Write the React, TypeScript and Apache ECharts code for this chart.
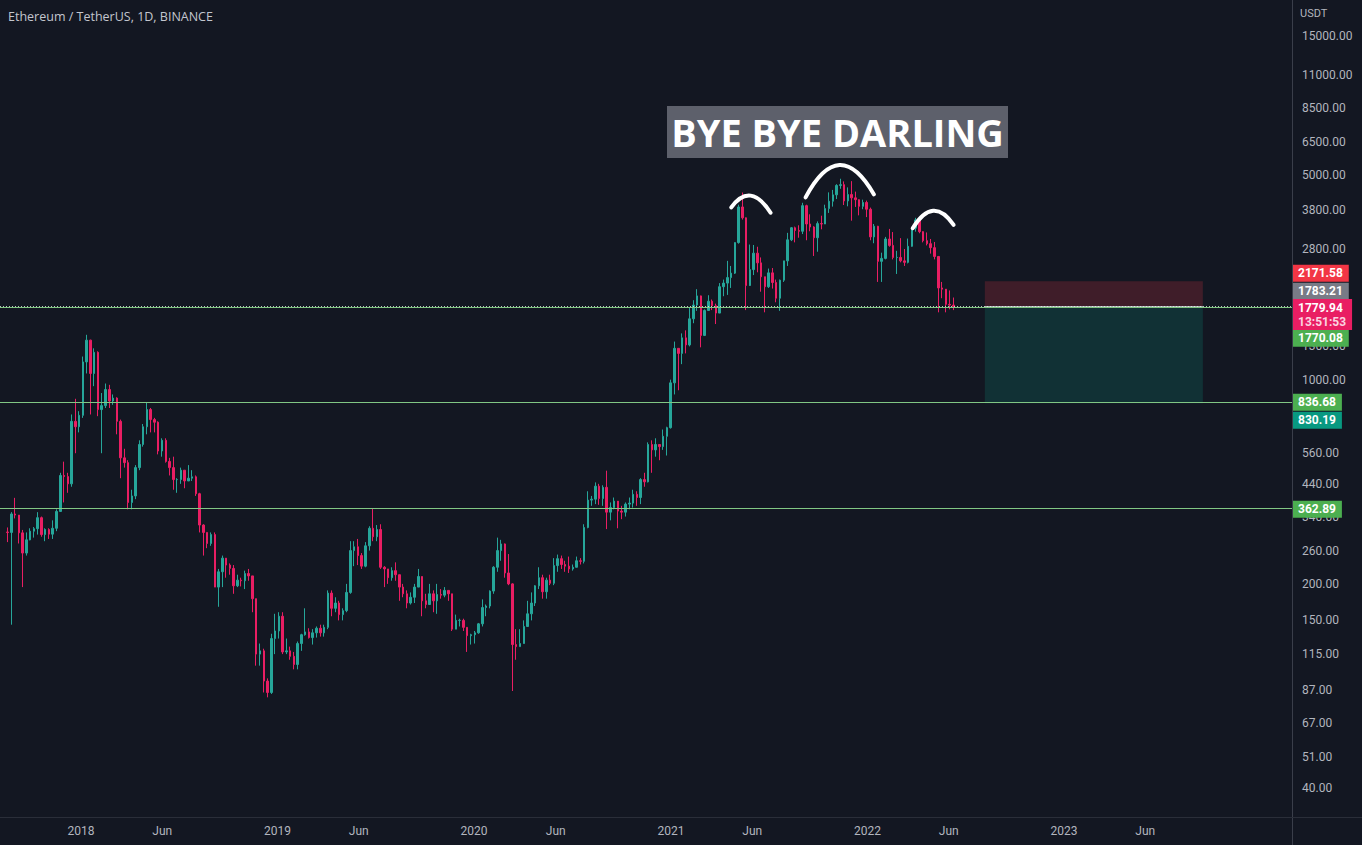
import React, { useEffect, useRef } from "react";
import * as echarts from "echarts";

// ---------- DATA (weekly candles) ----------
const FIRST_WEEK = "2017-08-14"; // Monday of the first weekly candle
const FIRST_OPEN = 301;

const weeklyHigh = [
  312, 352, 394, 343, 306, 300, 310, 313, 352, 340, 310, 310, 330, 360, 480, 524, 480, 760, 860, 780,
  1200, 1424, 1370, 1280, 1250, 900, 970, 960, 890, 870, 730, 580, 530, 420, 510, 620, 705, 835, 800, 740,
  720, 630, 630, 540, 545, 460, 500, 490, 510, 490, 470, 410, 320, 300, 300, 300, 225, 250, 245, 235,
  232, 215, 210, 222, 225, 213, 178, 125, 120, 95, 135, 158, 160, 160, 130, 122, 117, 127, 135, 165,
  141, 140, 143, 145, 145, 190, 190, 180, 175, 165, 200, 280, 280, 285, 255, 278, 315, 363, 318, 320,
  230, 225, 228, 237, 215, 200, 190, 187, 200, 225, 212, 185, 200, 190, 200, 192, 195, 190, 185, 157,
  152, 152, 142, 135, 138, 147, 177, 170, 190, 230, 288, 283, 275, 253, 201, 140, 140, 150, 175, 187,
  198, 228, 215, 210, 215, 245, 252, 250, 240, 248, 233, 248, 245, 320, 415, 400, 445, 440, 435, 488,
  380, 395, 380, 370, 380, 395, 420, 415, 460, 480, 610, 620, 630, 600, 675, 690, 1000, 1350, 1280, 1440,
  1475, 1770, 1870, 2040, 1940, 1740, 1945, 1880, 1820, 2140, 2200, 2550, 2450, 2950, 3970, 4370, 3590, 2900, 2890, 2850,
  2620, 2250, 2400, 2410, 2200, 2200, 2550, 3180, 3330, 3340, 3375, 4030, 3970, 3680, 3350, 3480, 3640, 3970, 4375, 4460,
  4665, 4870, 4770, 4550, 4780, 4400, 4110, 4130, 4100, 3880, 3410, 3360, 2720, 3080, 3280, 3200, 2760, 3050, 2800, 3040,
  3300, 3580, 3555, 3220, 3190, 3030, 2960, 2650, 2160, 2010, 2020, 1910,
];

const weeklyLow = [
  278, 145, 335, 275, 195, 250, 282, 288, 295, 290, 280, 285, 285, 303, 355, 380, 410, 430, 560, 660,
  740, 1050, 760, 950, 750, 560, 800, 800, 820, 650, 460, 500, 360, 360, 390, 490, 590, 650, 660, 660,
  555, 545, 520, 470, 420, 410, 440, 425, 450, 450, 400, 300, 250, 265, 270, 195, 167, 195, 210, 215,
  185, 195, 196, 192, 205, 160, 105, 105, 85, 81.8, 84, 115, 130, 115, 115, 110, 102, 102, 118, 133,
  130, 124, 131, 132, 132, 140, 155, 160, 150, 150, 160, 185, 230, 232, 225, 228, 260, 280, 280, 225,
  195, 200, 205, 205, 175, 180, 165, 170, 172, 195, 155, 165, 170, 160, 158, 178, 180, 175, 138, 140,
  143, 138, 117, 124, 125, 135, 143, 155, 165, 185, 220, 240, 210, 198, 86, 110, 122, 125, 150, 150,
  168, 192, 178, 178, 198, 198, 220, 225, 220, 218, 222, 229, 233, 235, 310, 370, 375, 373, 370, 308,
  330, 360, 310, 333, 340, 360, 365, 370, 375, 430, 445, 480, 545, 530, 575, 550, 680, 890, 920, 1130,
  1230, 1300, 1560, 1720, 1290, 1410, 1720, 1730, 1550, 1690, 1930, 1950, 2060, 2300, 2920, 3530, 1730, 2160, 2280, 2330,
  2000, 1700, 2060, 2050, 1840, 1720, 2160, 2450, 2980, 2950, 3060, 3150, 3000, 3220, 2650, 2740, 3270, 3420, 3720, 3910,
  4150, 4500, 3960, 3920, 3500, 3900, 3650, 3830, 3600, 3000, 2930, 2160, 2160, 2580, 2850, 2580, 2300, 2520, 2450, 2500,
  2850, 3210, 3170, 2950, 2880, 2700, 2580, 1700, 1900, 1700, 1740, 1730,
];

const weeklyClose = [
  300, 347, 344, 299, 255, 283, 303, 309, 337, 295, 307, 296, 310, 354, 470, 466, 440, 720, 690, 755,
  1150, 1365, 1050, 1240, 790, 815, 925, 845, 865, 720, 540, 520, 380, 400, 500, 600, 690, 790, 730, 715,
  570, 620, 525, 500, 455, 455, 490, 450, 460, 465, 407, 318, 300, 275, 295, 195, 220, 245, 232, 226,
  197, 206, 205, 217, 213, 178, 115, 118, 93, 85, 130, 138, 155, 117, 118, 113, 106, 125, 134, 137,
  131, 136, 141, 136, 142, 186, 165, 172, 157, 162, 187, 260, 268, 250, 230, 270, 310, 290, 307, 228,
  225, 210, 222, 215, 195, 185, 172, 180, 195, 212, 175, 170, 185, 175, 184, 183, 190, 185, 140, 150,
  150, 142, 133, 134, 136, 146, 166, 168, 189, 228, 260, 274, 218, 200, 124, 122, 125, 143, 158, 172,
  197, 210, 188, 206, 201, 231, 244, 233, 230, 225, 228, 240, 239, 312, 387, 390, 432, 392, 428, 352,
  365, 384, 355, 352, 375, 378, 405, 395, 455, 447, 600, 575, 600, 590, 640, 685, 975, 1280, 1230, 1390,
  1315, 1615, 1800, 1935, 1417, 1725, 1855, 1790, 1690, 2080, 2140, 2235, 2315, 2945, 3900, 3580, 2100, 2380, 2710, 2510,
  2250, 2080, 2320, 2150, 1900, 2190, 2550, 3010, 3310, 3240, 3220, 3940, 3410, 3330, 3060, 3420, 3410, 3850, 4080, 4290,
  4620, 4650, 4090, 4300, 4190, 4130, 3920, 4040, 3830, 3080, 3350, 2540, 2600, 3030, 2880, 2620, 2620, 2550, 2520, 2860,
  3300, 3520, 3210, 2990, 2920, 2830, 2640, 2060, 2040, 1810, 1800, 1779.94,
];

const yTickValues = [40, 51, 67, 87, 115, 150, 200, 260, 340, 440, 560, 1000, 1300, 2800, 3800, 5000, 6500, 8500, 11000, 15000];
const xTickDates = [
  "2018-01-01", "2018-06-01", "2019-01-01", "2019-06-01", "2020-01-01", "2020-06-01",
  "2021-01-01", "2021-06-01", "2022-01-01", "2022-06-01", "2023-01-01", "2023-06-01",
];
const monthNames = ["Jan", "Feb", "Mar", "Apr", "May", "Jun", "Jul", "Aug", "Sep", "Oct", "Nov", "Dec"];

// price levels
const supportHigh = 836.68;
const supportLow = 362.89;
const greenLevel = 1770.08;
const lastPrice = 1779.94;
const countdown = "13:51:53";
const entryPrice = 1783.21;
const stopPrice = 2171.58;
const targetPrice = 830.19;
const positionStart = "2022-08-07";
const positionEnd = "2023-09-16";

// hand-drawn arcs over the three tops: [start, middle, end] dates and prices
const arcDates = [
  ["2021-04-23", "2021-05-29", "2021-07-05"],
  ["2021-09-08", "2021-11-10", "2022-01-13"],
  ["2022-03-26", "2022-05-03", "2022-06-10"],
];
const arcPrices = [
  [3888, 4264, 3727],
  [4206, 5429, 4306],
  [3298, 3784, 3385],
];

const titleText = "Ethereum / TetherUS, 1D, BINANCE";
const noteText = "BYE BYE DARLING";

// ---------- helpers ----------
const DAY = 86400000;
const ts = (s: string) => Date.parse(s + "T00:00:00Z");

export default function App() {
  const ref = useRef<HTMLDivElement>(null);

  useEffect(() => {
    if (!ref.current) return;
    const chart = echarts.init(ref.current, undefined, { renderer: "svg" });

    const start = ts(FIRST_WEEK);
    const candles = weeklyClose.map((c, i) => [
      start + i * 7 * DAY + 3.5 * DAY,
      i === 0 ? FIRST_OPEN : weeklyClose[i - 1],
      c,
      weeklyLow[i],
      weeklyHigh[i],
    ]);

    const arcs = arcDates.map((d, i) => [
      ts(d[0]), arcPrices[i][0], ts(d[1]), arcPrices[i][1], ts(d[2]), arcPrices[i][2],
    ]);

    const jan2018 = ts("2018-01-01");
    const xMin = jan2018 - 150.47 * DAY;
    const xMax = jan2018 + 2249.6 * DAY;

    const tagBase = {
      show: true,
      position: "end",
      distance: 0,
      color: "#ffffff",
      fontSize: 12,
      fontWeight: "bold",
      fontFamily: "Roboto, sans-serif",
      padding: [2, 6, 1, 6],
      lineHeight: 14,
    };
    const hidden = { color: "rgba(0,0,0,0)", width: 1 };
    const greenLine = { color: "#81c784", width: 1, type: "solid" };

    const mkTag = (value: number, text: string, bg: string, dy: number, lineStyle: any) => ({
      yAxis: value,
      lineStyle,
      label: { ...tagBase, formatter: text, backgroundColor: bg, offset: [0, dy] },
    });

    const option: any = {
      animation: false,
      backgroundColor: "#131722",
      grid: { left: 0, right: 70, top: 0, bottom: 28, containLabel: false },
      xAxis: {
        type: "value",
        min: xMin,
        max: xMax,
        axisLine: { show: false },
        axisTick: { show: false },
        splitLine: { show: false },
        axisLabel: {
          customValues: xTickDates.map(ts),
          color: "#b2b5be",
          fontSize: 12,
          fontFamily: "Roboto, sans-serif",
          margin: 8,
          formatter: (v: number) => {
            const d = new Date(v);
            return d.getUTCMonth() === 0 ? String(d.getUTCFullYear()) : monthNames[d.getUTCMonth()];
          },
        },
      },
      yAxis: {
        type: "log",
        logBase: 10,
        position: "right",
        min: 31.86,
        max: 19921,
        axisLine: { show: false },
        axisTick: { show: false },
        splitLine: { show: false },
        axisLabel: {
          customValues: yTickValues,
          color: "#b2b5be",
          fontSize: 12,
          fontFamily: "Roboto, sans-serif",
          margin: 10,
          formatter: (v: number) => Number(v).toFixed(2),
        },
      },
      series: [
        {
          type: "candlestick",
          data: candles,
          barWidth: 2,
          itemStyle: {
            color: "#26a69a",
            color0: "#e91e63",
            borderColor: "#26a69a",
            borderColor0: "#e91e63",
            borderWidth: 1,
          },
          markArea: {
            silent: true,
            data: [
              [
                { xAxis: ts(positionStart), yAxis: stopPrice, itemStyle: { color: "rgba(242,54,69,0.2)" } },
                { xAxis: ts(positionEnd), yAxis: entryPrice },
              ],
              [
                { xAxis: ts(positionStart), yAxis: entryPrice, itemStyle: { color: "rgba(8,153,129,0.2)" } },
                { xAxis: ts(positionEnd), yAxis: targetPrice },
              ],
            ],
          },
          markLine: {
            silent: true,
            symbol: ["none", "none"],
            data: [
              [
                { coord: [ts(positionStart), entryPrice], lineStyle: { color: "#b2b5be", width: 1, type: "solid" }, label: { show: false } },
                { coord: [ts(positionEnd), entryPrice] },
              ],
              mkTag(supportHigh, "836.68", "#4caf50", 0, greenLine),
              mkTag(supportLow, "362.89", "#4caf50", 1, greenLine),
              mkTag(greenLevel, "1770.08", "#4caf50", 31, greenLine),
              mkTag(targetPrice, "830.19", "#089981", 17, hidden),
              mkTag(stopPrice, "2171.58", "#f23645", -8, hidden),
              mkTag(entryPrice, "1783.21", "#787b86", -15, hidden),
              {
                yAxis: lastPrice,
                lineStyle: { color: "rgba(230,245,230,0.8)", width: 1, type: [1, 2] },
                label: {
                  ...tagBase,
                  backgroundColor: "#e91e63",
                  offset: [0, 8],
                  formatter: "{a|" + lastPrice.toFixed(2) + "}\n{b|" + countdown + "}",
                  rich: {
                    a: { color: "#ffffff", fontSize: 12, fontWeight: "bold", lineHeight: 14, fontFamily: "Roboto, sans-serif" },
                    b: { color: "#fbd3e0", fontSize: 12, lineHeight: 14, fontFamily: "Roboto, sans-serif" },
                  },
                },
              },
            ],
          },
          z: 2,
        },
        {
          type: "custom",
          data: arcs,
          clip: false,
          silent: true,
          z: 6,
          renderItem: (_params: any, api: any) => {
            const s = api.coord([api.value(0), api.value(1)]);
            const m = api.coord([api.value(2), api.value(3)]);
            const e = api.coord([api.value(4), api.value(5)]);
            const cx = 2 * m[0] - (s[0] + e[0]) / 2;
            const cy = 2 * m[1] - (s[1] + e[1]) / 2;
            return {
              type: "bezierCurve",
              shape: { x1: s[0], y1: s[1], x2: e[0], y2: e[1], cpx1: cx, cpy1: cy },
              style: { stroke: "#ffffff", lineWidth: 4, fill: null, lineCap: "round" },
            };
          },
        },
      ],
      graphic: [
        {
          type: "line",
          shape: { x1: 1292.5, y1: 0, x2: 1292.5, y2: 845 },
          style: { stroke: "#3a3e4a", lineWidth: 1 },
          silent: true,
          z: 10,
        },
        {
          type: "line",
          shape: { x1: 0, y1: 817.5, x2: 1362, y2: 817.5 },
          style: { stroke: "#2a2e39", lineWidth: 1 },
          silent: true,
          z: 10,
        },
        {
          type: "text",
          x: 8,
          y: 16,
          style: {
            text: titleText,
            fill: "#c3c6ce",
            font: '12.5px "Open Sans", sans-serif',
            textVerticalAlign: "middle",
          },
          silent: true,
          z: 10,
        },
        {
          type: "text",
          x: 1300,
          y: 13,
          style: {
            text: "USDT",
            fill: "#b2b5be",
            font: '11px Roboto, sans-serif',
            textVerticalAlign: "middle",
          },
          silent: true,
          z: 10,
        },
        {
          type: "group",
          z: 10,
          children: [
            {
              type: "rect",
              shape: { x: 667, y: 106, width: 341, height: 52 },
              style: { fill: "#5d606b" },
            },
            {
              type: "text",
              x: 837.5,
              y: 132,
              style: {
                text: noteText,
                fill: "#ffffff",
                font: 'bold 38px "Open Sans", sans-serif',
                textAlign: "center",
                textVerticalAlign: "middle",
              },
            },
          ],
        },
      ],
    };

    chart.setOption(option);
    return () => chart.dispose();
  }, []);

  return (
    <div
      ref={ref}
      style={{ position: "fixed", left: 0, top: 0, width: 1362, height: 845, background: "#131722" }}
    />
  );
}
